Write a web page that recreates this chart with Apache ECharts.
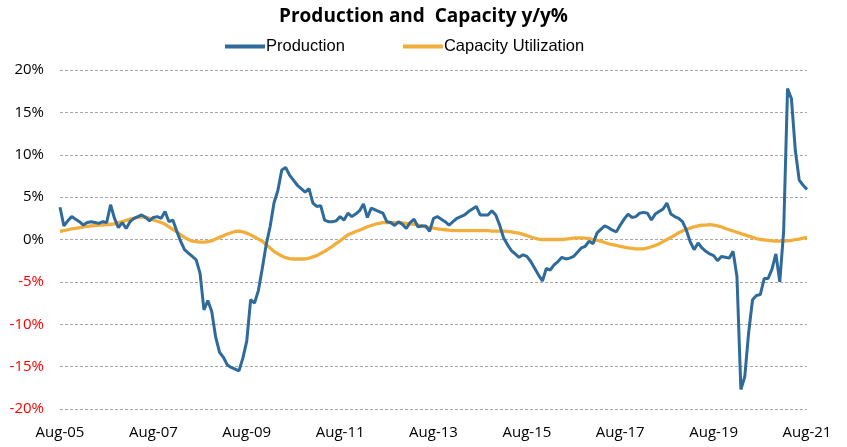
<!DOCTYPE html>
<html>
<head>
<meta charset="utf-8">
<script src="https://cdn.jsdelivr.net/npm/echarts@6/dist/echarts.min.js"></script>
<style>
  html, body { margin: 0; padding: 0; background: #fff; }
  #chart1 { width: 847px; height: 447px; }
</style>
</head>
<body>
<div id="chart1"></div>
<script>
// monthly, Aug-05 .. Aug-21
let monthNames = ['Aug', 'Sep', 'Oct', 'Nov', 'Dec', 'Jan', 'Feb', 'Mar', 'Apr', 'May', 'Jun', 'Jul'];
let startYear = 5;
let yearCount = 16;

// Production y/y %
let production = [
    3.8, 1.6, 2.2, 2.7, 2.4, 2.1, 1.7, 2.0, 2.1, 2.0, 1.9, 2.1,
    2.0, 4.1, 2.5, 1.4, 2.0, 1.3, 2.1, 2.5, 2.7, 2.9, 2.6, 2.2,
    2.6, 2.7, 2.5, 3.3, 2.1, 2.3, 1.0, -0.2, -1.2, -1.6, -2.0, -2.4,
    -4.0, -8.3, -7.2, -8.5, -11.5, -13.3, -13.9, -14.8, -15.1, -15.3, -15.5, -14.0,
    -12.0, -7.1, -7.5, -6.0, -3.4, -0.6, 1.5, 4.3, 5.8, 8.2, 8.5, 7.6,
    7.0, 6.4, 6.0, 5.6, 6.0, 4.3, 3.9, 4.0, 2.3, 2.1, 2.1, 2.2,
    2.7, 2.3, 3.1, 2.7, 3.0, 3.4, 4.2, 2.6, 3.7, 3.5, 3.3, 3.1,
    2.1, 2.0, 1.65, 2.1, 1.8, 1.3, 2.0, 2.4, 1.5, 1.6, 1.6, 0.95,
    2.5, 2.7, 2.4, 2.1, 1.7, 2.1, 2.5, 2.7, 2.9, 3.3, 3.6, 3.9,
    2.9, 2.9, 2.9, 3.4, 2.9, 1.7, 0.2, -0.6, -1.3, -1.7, -2.1, -1.8,
    -2.0, -2.6, -3.4, -4.2, -4.9, -3.4, -3.6, -3.0, -2.6, -2.1, -2.3, -2.2,
    -2.0, -1.5, -1.0, -0.8, -0.2, -0.5, 0.75, 1.2, 1.6, 1.4, 1.1, 0.9,
    1.7, 2.4, 3.0, 2.6, 2.7, 3.1, 3.2, 3.1, 2.3, 3.0, 3.3, 3.6,
    4.3, 3.0, 2.7, 2.5, 2.1, 1.1, -0.3, -1.2, -0.4, -1.0, -1.4, -1.7,
    -1.9, -2.5, -2.0, -2.1, -2.2, -1.4, -4.4, -17.7, -16.2, -11.0, -7.1, -6.6,
    -6.5, -4.6, -4.6, -3.5, -1.7, -5.0, 1.0, 17.8, 16.6, 10.5, 7.0, 6.4,
    5.9
];

// Capacity Utilization y/y %
let capacity = [
    0.95, 1.05, 1.15, 1.25, 1.3, 1.4, 1.5, 1.55, 1.6, 1.65, 1.7, 1.7,
    1.75, 1.8, 1.85, 2.0, 2.1, 2.25, 2.4, 2.5, 2.6, 2.65, 2.65, 2.5,
    2.3, 2.15, 2.0, 1.8, 1.5, 1.2, 0.9, 0.55, 0.25, 0.0, -0.2, -0.25,
    -0.3, -0.3, -0.25, -0.15, 0.05, 0.25, 0.45, 0.65, 0.8, 0.95, 1.0, 0.9,
    0.75, 0.55, 0.3, 0.05, -0.2, -0.6, -1.0, -1.4, -1.7, -1.95, -2.15, -2.25,
    -2.3, -2.3, -2.3, -2.3, -2.2, -2.05, -1.9, -1.65, -1.4, -1.1, -0.8, -0.45,
    -0.15, 0.2, 0.55, 0.75, 0.95, 1.1, 1.3, 1.5, 1.65, 1.8, 1.9, 2.0,
    2.0, 2.0, 2.0, 1.95, 1.95, 1.9, 1.85, 1.8, 1.7, 1.6, 1.5, 1.4,
    1.35, 1.25, 1.2, 1.15, 1.1, 1.06, 1.05, 1.05, 1.05, 1.05, 1.05, 1.05,
    1.05, 1.05, 1.05, 1.0, 1.0, 1.0, 1.0, 0.95, 0.9, 0.8, 0.75, 0.6,
    0.45, 0.3, 0.15, 0.05, 0.0, 0.0, 0.0, 0.0, 0.0, 0.0, 0.05, 0.1,
    0.15, 0.2, 0.2, 0.15, 0.1, 0.0, -0.1, -0.2, -0.35, -0.5, -0.6, -0.7,
    -0.8, -0.9, -1.0, -1.05, -1.1, -1.1, -1.1, -1.0, -0.85, -0.7, -0.5, -0.25,
    0.0, 0.25, 0.5, 0.8, 1.0, 1.2, 1.35, 1.5, 1.6, 1.7, 1.7, 1.75,
    1.7, 1.6, 1.5, 1.3, 1.15, 1.0, 0.85, 0.7, 0.55, 0.4, 0.25, 0.1,
    0.0, -0.05, -0.1, -0.15, -0.2, -0.2, -0.2, -0.15, -0.1, 0.0, 0.05, 0.15,
    0.25
];

let categories = [];
for (let y = 0; y <= yearCount; y++) {
    for (let m = 0; m < 12; m++) {
        if (y === yearCount && m > 0) break;
        let yr = startYear + y + (m >= 5 ? 1 : 0);
        categories.push(monthNames[m] + '-' + (yr < 10 ? '0' + yr : yr));
    }
}

let dom1 = document.getElementById('chart1');
let Chart1 = echarts.init(dom1);

let option1 = {
    animation: false,
    color: ['#2E6A9A', '#F2AE3D'],
    title: {
        text: 'Production and  Capacity y/y%',
        left: 'center',
        top: 2,
        textStyle: {
            fontFamily: 'Open Sans',
            fontWeight: 'bold',
            fontSize: 19,
            color: '#000'
        }
    },
    legend: {
        data: ['Production', 'Capacity Utilization'],
        top: 33,
        left: 220,
        icon: 'rect',
        itemWidth: 40,
        itemHeight: 4,
        itemGap: 58,
        textStyle: {
            fontFamily: 'Liberation Sans',
            fontSize: 16.5,
            color: '#000',
            padding: [0, 0, 0, -4]
        }
    },
    grid: {
        top: 70,
        left: 60,
        right: 40,
        bottom: 38
    },
    xAxis: {
        type: 'category',
        data: categories,
        boundaryGap: false,
        axisLine: { show: false },
        axisTick: { show: false },
        splitLine: { show: false },
        axisLabel: {
            interval: 23,
            margin: 16,
            fontFamily: 'Open Sans',
            fontSize: 15,
            color: '#000'
        }
    },
    yAxis: {
        type: 'value',
        min: -20,
        max: 20,
        interval: 5,
        axisLine: { show: false },
        axisTick: { show: false },
        splitLine: {
            lineStyle: {
                color: '#a6a6a6',
                type: [3, 2],
                width: 1
            }
        },
        axisLabel: {
            margin: 16,
            fontFamily: 'Open Sans',
            fontSize: 15,
            formatter: function (v) { return v + '%'; },
            color: function (v) { return v < 0 ? '#FF0000' : '#000'; }
        }
    },
    series: [
        {
            name: 'Production',
            type: 'line',
            showSymbol: false,
            z: 3,
            lineStyle: { width: 3 },
            data: production
        },
        {
            name: 'Capacity Utilization',
            type: 'line',
            showSymbol: false,
            z: 2,
            lineStyle: { width: 3.3 },
            data: capacity
        }
    ]
};

Chart1.setOption(option1);
</script>
</body>
</html>
